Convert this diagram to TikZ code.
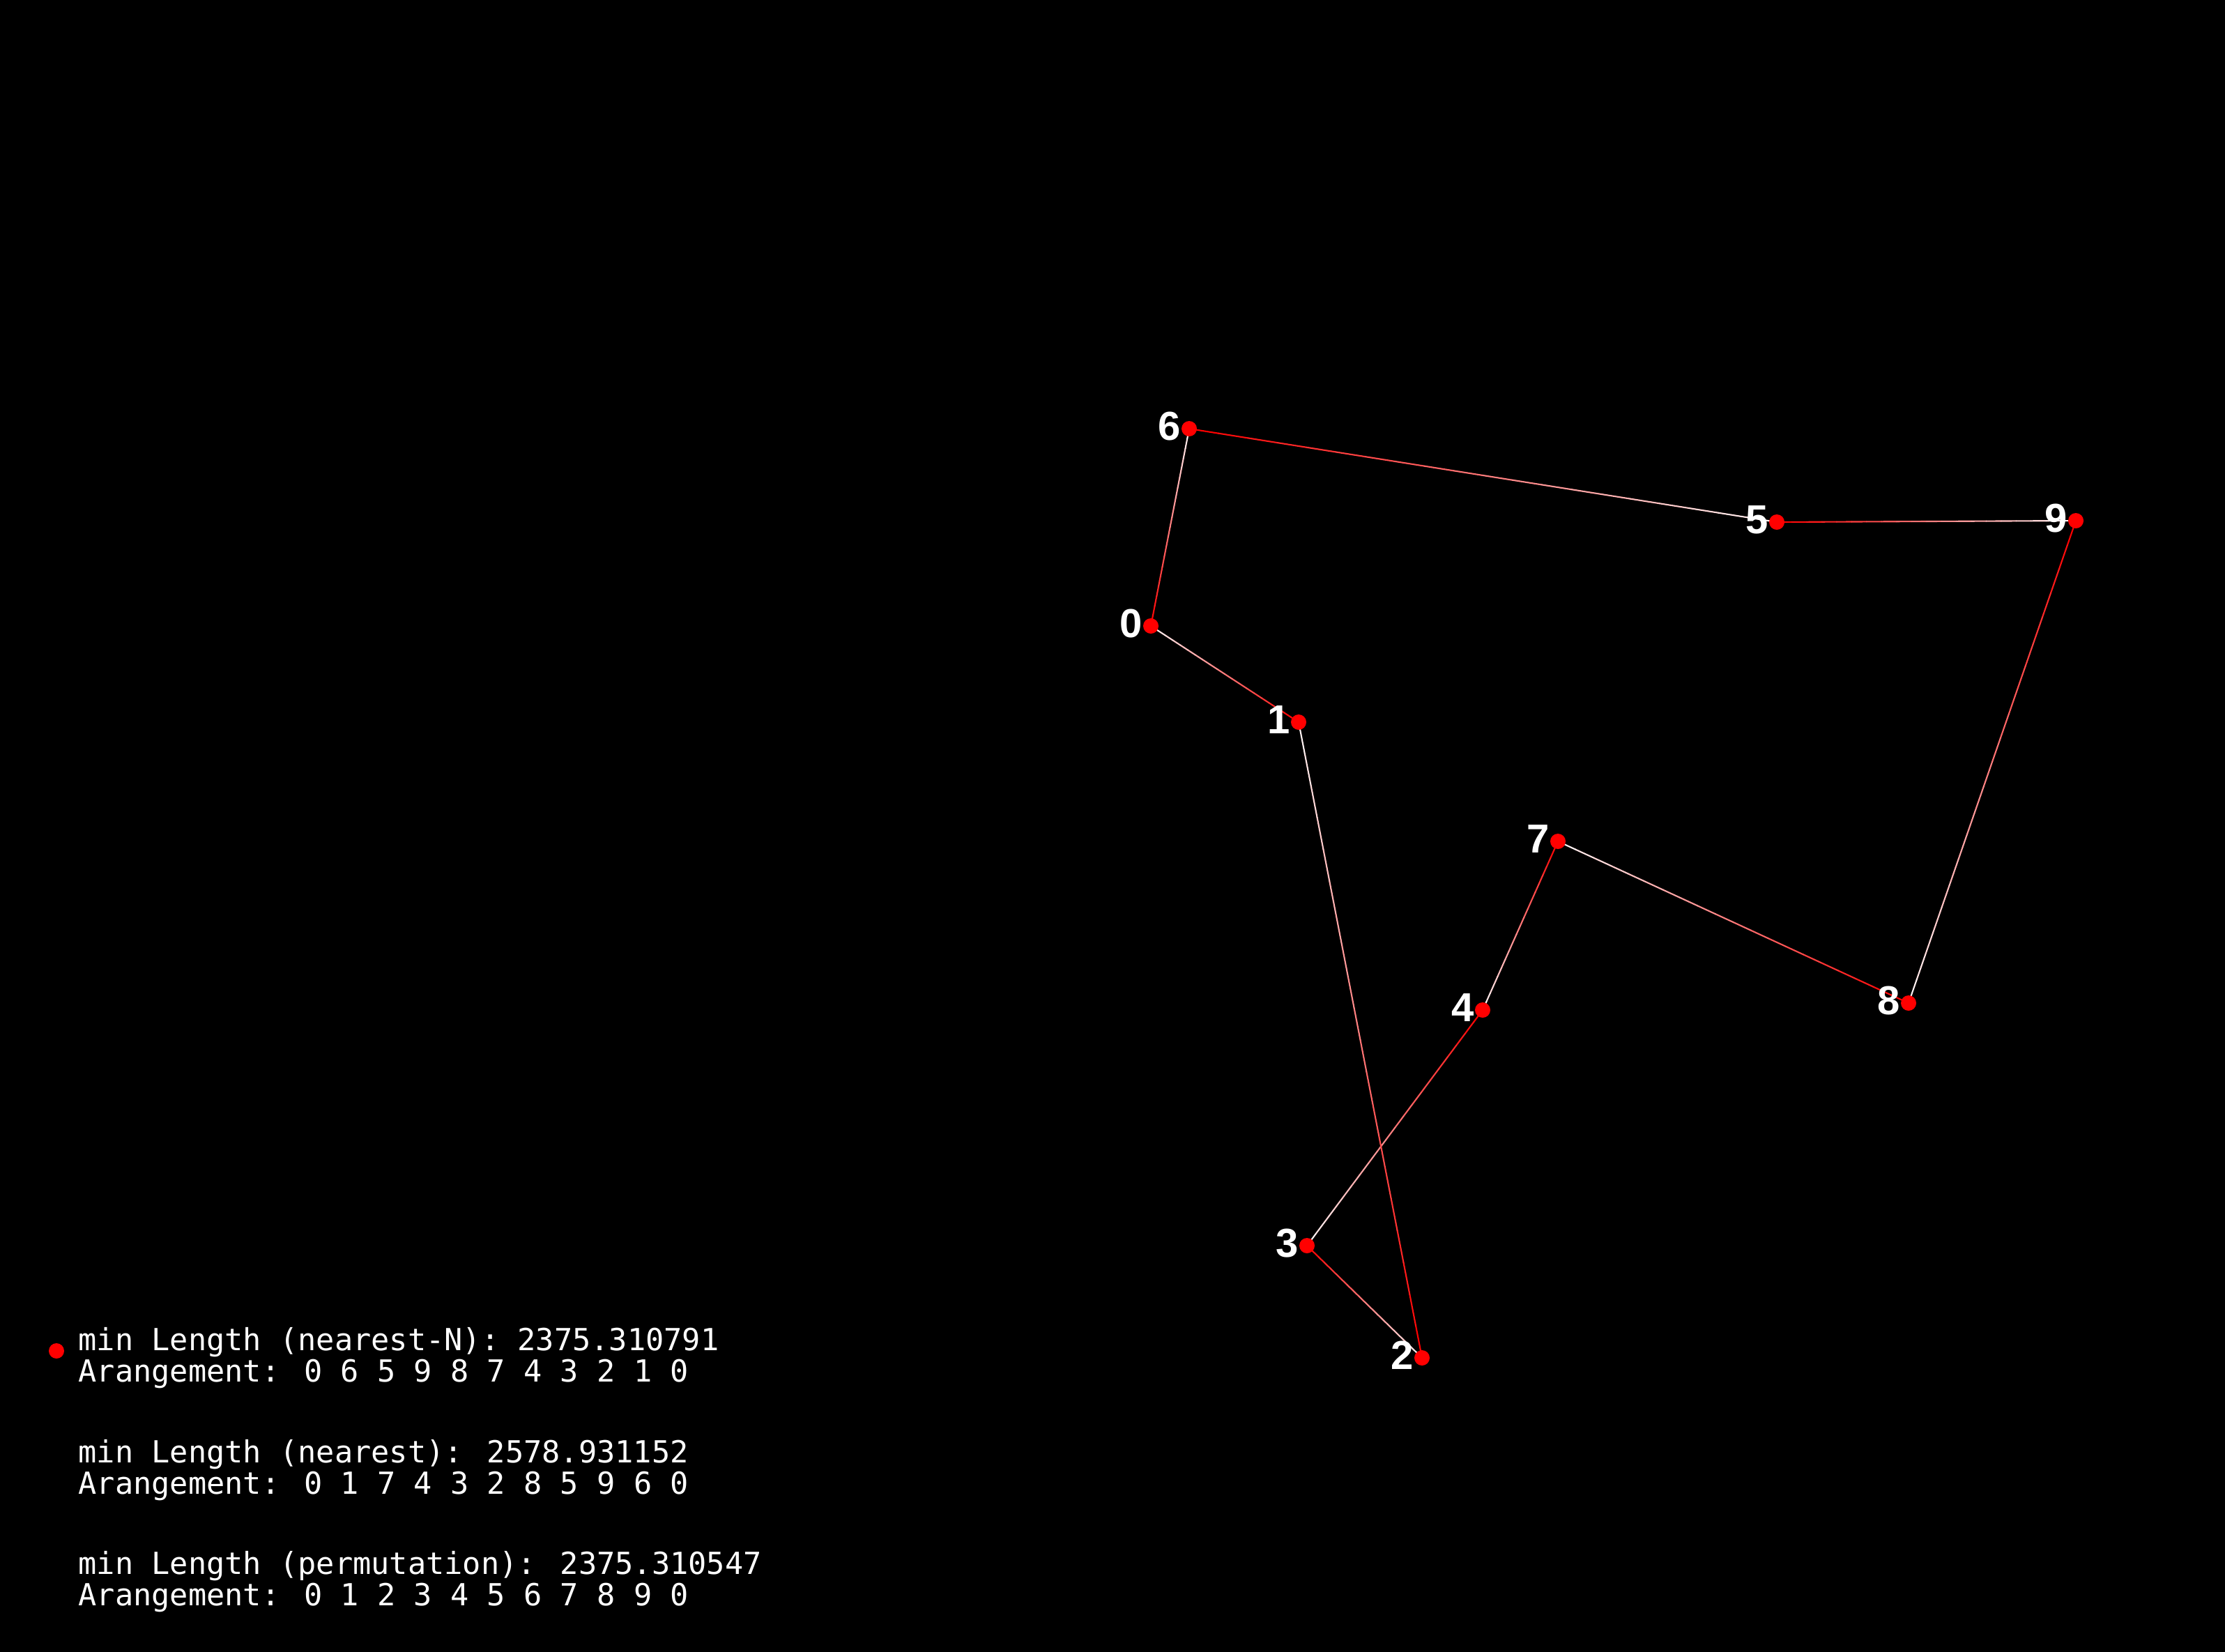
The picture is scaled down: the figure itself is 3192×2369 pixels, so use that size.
\documentclass[tikz,border=0pt]{standalone}
\usepackage{fontspec}
\newfontfamily\monofont{DejaVu Sans Mono}
\newfontfamily\digitfont{Liberation Sans}
\usetikzlibrary{positioning,calc}

\tikzset{
	dot/.style={circle, fill=red, inner sep=0pt, minimum size=0.22cm},
	lbl/.style={text=white, font=\digitfont\bfseries\fontsize{16.5}{16.5}\selectfont, inner sep=0pt},
	info/.style={text=white, font=\monofont\fontsize{12.4}{12.75}\selectfont, align=left, inner sep=0pt, anchor=west},
}

\begin{document}
\begin{tikzpicture}[x=0.01cm, y=-0.01cm]
	% Background (fixes the page size)
	\useasboundingbox (0,0) rectangle (3192,2369);
	\fill[black] (-20,-20) rectangle (3212,2389);
	
	% City positions
	\coordinate (p0) at (1651,898);
	\coordinate (p1) at (1863,1036);
	\coordinate (p2) at (2040,1948);
	\coordinate (p3) at (1875,1787);
	\coordinate (p4) at (2127,1449);
	\coordinate (p5) at (2549,749);
	\coordinate (p6) at (1706,615);
	\coordinate (p7) at (2235,1207);
	\coordinate (p8) at (2738,1439);
	\coordinate (p9) at (2978,747);
	
	% Tour edges, red at the start fading to white
	\foreach \a/\b in {p0/p6, p6/p5, p5/p9, p9/p8, p8/p7, p7/p4, p4/p3, p3/p2, p2/p1, p1/p0} {
		\foreach \k in {0,...,19} {
			\pgfmathtruncatemacro{\shade}{100-5*\k}
			\draw[line width=0.6pt, line cap=round, red!\shade!white] ($(\a)!\k/20!(\b)$) -- ($(\a)!{(\k+1)/20}!(\b)$);
		}
	}
	
	% Cities and their numbers
	\foreach \i in {0,...,9} {
		\node[dot] (d\i) at (p\i) {};
		\node[lbl, left=0pt of d\i, yshift=1pt] (l\i) {\i};
	}
	
	% Results
	\node[dot] (key) at (81,1938) {};
	\node[info] (nearN) at (112,1948) {min Length (nearest-N): 2375.310791\\Arangement: 0 6 5 9 8 7 4 3 2 1 0};
	\node[info] (near) at (112,2109) {min Length (nearest): 2578.931152\\Arangement: 0 1 7 4 3 2 8 5 9 6 0};
	\node[info] (perm) at (112,2269) {min Length (permutation): 2375.310547\\Arangement: 0 1 2 3 4 5 6 7 8 9 0};
\end{tikzpicture}
\end{document}
